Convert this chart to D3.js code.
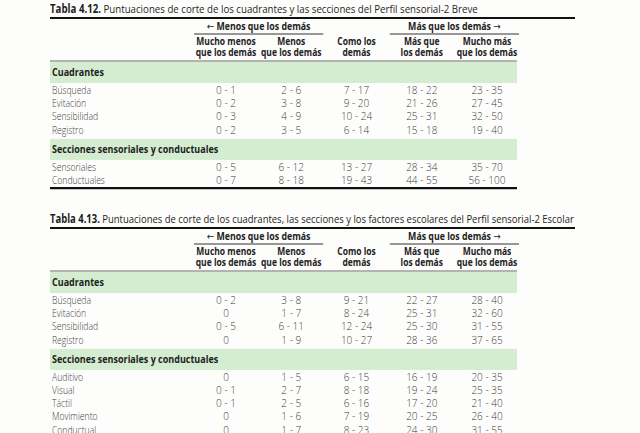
<!DOCTYPE html>
<html>
<head>
<meta charset="utf-8">
<script src="https://cdn.jsdelivr.net/npm/d3@7"></script>
<style>
	body { margin: 0; background: #fdfdfc; }
	svg { display: block; }
</style>
</head>
<body>
<svg id="tables" width="640" height="433"></svg>
<script>
// column headers (shared by both tables)
const columns = ["mm", "m", "c", "ma", "mma"];
const columnLines = [
	["Mucho menos", "que los demás"],
	["Menos", "que los demás"],
	["Como los", "demás"],
	["Más que", "los demás"],
	["Mucho más", "que los demás"]
];
const groupLeft = "Menos que los demás";
const groupRight = "Más que los demás";
const sectionNames = ["Cuadrantes", "Secciones sensoriales y conductuales"];

// Tabla 4.12 - Breve
const breveQuadLabels = ["Búsqueda", "Evitación", "Sensibilidad", "Registro"];
const breveQuadValues = [
	["0 - 1", "2 - 6", "7 - 17", "18 - 22", "23 - 35"],
	["0 - 2", "3 - 8", "9 - 20", "21 - 26", "27 - 45"],
	["0 - 3", "4 - 9", "10 - 24", "25 - 31", "32 - 50"],
	["0 - 2", "3 - 5", "6 - 14", "15 - 18", "19 - 40"]
];
const breveSecLabels = ["Sensoriales", "Conductuales"];
const breveSecValues = [
	["0 - 5", "6 - 12", "13 - 27", "28 - 34", "35 - 70"],
	["0 - 7", "8 - 18", "19 - 43", "44 - 55", "56 - 100"]
];

// Tabla 4.13 - Escolar
const escolarQuadLabels = ["Búsqueda", "Evitación", "Sensibilidad", "Registro"];
const escolarQuadValues = [
	["0 - 2", "3 - 8", "9 - 21", "22 - 27", "28 - 40"],
	["0", "1 - 7", "8 - 24", "25 - 31", "32 - 60"],
	["0 - 5", "6 - 11", "12 - 24", "25 - 30", "31 - 55"],
	["0", "1 - 9", "10 - 27", "28 - 36", "37 - 65"]
];
const escolarSecLabels = ["Auditivo", "Visual", "Táctil", "Movimiento", "Conductual"];
const escolarSecValues = [
	["0", "1 - 5", "6 - 15", "16 - 19", "20 - 35"],
	["0 - 1", "2 - 7", "8 - 18", "19 - 24", "25 - 35"],
	["0 - 1", "2 - 5", "6 - 16", "17 - 20", "21 - 40"],
	["0", "1 - 6", "7 - 19", "20 - 25", "26 - 40"],
	["0", "1 - 7", "8 - 23", "24 - 30", "31 - 55"]
];

const svg = d3.select("svg#tables");
const FONT = "'Open Sans', 'Noto Sans', sans-serif";
const left = 50;
const tableRight = 517;
const green = "#d4edd0";
const bodyColor = "#3d3d3d";

const x = d3.scalePoint().domain(columns).range([226, 487]);

// text placed at (tx, ty) and squeezed horizontally by k (condensed face in the scan)
function addText(g, tx, ty, k) {
	return g.append("text")
		.attr("transform", `translate(${tx},${ty}) scale(${k},1)`)
		.attr("dominant-baseline", "middle")
		.style("font-family", FONT)
		.style("font-size", "10px");
}

function drawTable(top, titleBold, titleRest, titleEnd, ruleEnd, sections) {
	const g = svg.append("g");

	// title, fitted to its width in the scan
	const title = addText(g, left, top, 1)
		.style("font-size", "11.5px")
		.style("fill", "#1e1e1e");
	title.append("tspan").style("font-weight", "bold").text(titleBold + " ");
	title.append("tspan").text(titleRest);
	const tw = title.node().getComputedTextLength();
	title.attr("transform", `translate(${left},${top}) scale(${(titleEnd - left) / tw},1)`);

	g.append("line")
		.attr("x1", left).attr("x2", ruleEnd)
		.attr("y1", top + 8).attr("y2", top + 8)
		.style("stroke", "#111").style("stroke-width", 2.2);

	// group headers
	const groups = [
		{ text: groupLeft, arrow: "left", x1: x("mm") - 32, x2: x("m") + 32 },
		{ text: groupRight, arrow: "right", x1: x("ma") - 32, x2: x("mma") + 32 }
	];
	groups.forEach(function (d) {
		const t = addText(g, (d.x1 + d.x2) / 2, top + 17, 0.88)
			.attr("text-anchor", "middle")
			.style("font-weight", "bold")
			.style("fill", "#222");
		if (d.arrow === "left") {
			t.append("tspan").style("font-family", "'DejaVu Sans'").style("font-weight", "normal").text("←");
			t.append("tspan").text(" " + d.text);
		} else {
			t.append("tspan").text(d.text + " ");
			t.append("tspan").style("font-family", "'DejaVu Sans'").style("font-weight", "normal").text("→");
		}
		g.append("line")
			.attr("x1", d.x1).attr("x2", d.x2)
			.attr("y1", top + 24).attr("y2", top + 24)
			.style("stroke", "#333").style("stroke-width", 1);
	});

	// column headers, two lines in one text
	columns.forEach(function (c, i) {
		const t = addText(g, x(c), top + 33, 0.85)
			.attr("text-anchor", "middle")
			.style("font-weight", "bold")
			.style("fill", "#222");
		columnLines[i].forEach(function (line, j) {
			t.append("tspan")
				.attr("x", 0)
				.attr("dy", j === 0 ? 0 : 11)
				.text(line);
		});
	});

	let yCounter = top + 51;
	g.append("line")
		.attr("x1", left).attr("x2", tableRight)
		.attr("y1", yCounter).attr("y2", yCounter)
		.style("stroke", "#9a9a9a").style("stroke-width", 1.6);

	sections.forEach(function (s, si) {
		const bandTop = si === 0 ? yCounter + 1 : yCounter + 8;
		g.append("rect")
			.attr("x", left).attr("y", bandTop)
			.attr("width", tableRight - left).attr("height", 21)
			.attr("fill", green);
		addText(g, left + 2, bandTop + 11, 0.9)
			.style("font-weight", "bold")
			.style("fill", "#222")
			.text(s.name);

		yCounter = bandTop + 29;
		s.labels.forEach(function (label, r) {
			addText(g, left + 2, yCounter, 0.86)
				.style("font-weight", "300")
				.style("fill", bodyColor)
				.text(label);
			s.values[r].forEach(function (v, ci) {
				addText(g, x(columns[ci]), yCounter, 1)
					.attr("text-anchor", "middle")
					.style("font-weight", "300")
					.style("fill", bodyColor)
					.text(v);
			});
			if (r < s.labels.length - 1) yCounter += 13.3;
		});
	});

	return yCounter;
}

const end1 = drawTable(10, "Tabla 4.12.",
	"Puntuaciones de corte de los cuadrantes y las secciones del Perfil sensorial-2 Breve",
	478, 575,
	[
		{ name: sectionNames[0], labels: breveQuadLabels, values: breveQuadValues },
		{ name: sectionNames[1], labels: breveSecLabels, values: breveSecValues }
	]);

svg.append("line")
	.attr("x1", left).attr("x2", tableRight)
	.attr("y1", end1 + 7).attr("y2", end1 + 7)
	.style("stroke", "#111").style("stroke-width", 2.2);

drawTable(220, "Tabla 4.13.",
	"Puntuaciones de corte de los cuadrantes, las secciones y los factores escolares del Perfil sensorial-2 Escolar",
	575, 575,
	[
		{ name: sectionNames[0], labels: escolarQuadLabels, values: escolarQuadValues },
		{ name: sectionNames[1], labels: escolarSecLabels, values: escolarSecValues }
	]);
</script>
</body>
</html>
